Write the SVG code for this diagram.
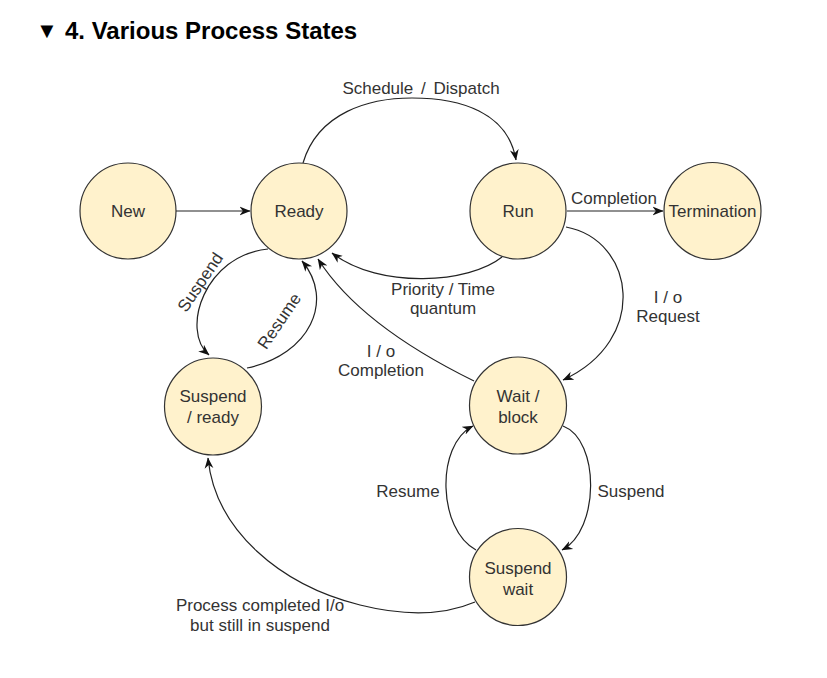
<svg xmlns="http://www.w3.org/2000/svg" width="827" height="678" viewBox="0 0 827 678">
<defs>
<marker id="arr" viewBox="0 0 10 10" refX="9.5" refY="5" markerWidth="11" markerHeight="11" markerUnits="userSpaceOnUse" orient="auto">
<path d="M0,1 L10,5 L0,9 L3,5 z" fill="#111"/>
</marker>
<style>
.node circle{fill:#fff2cc;stroke:#333;stroke-width:1.2}
.nt{font-family:"Liberation Sans",Arial,sans-serif;font-size:17px;fill:#333;text-anchor:middle}
.el{font-family:"Liberation Sans",Arial,sans-serif;font-size:17px;fill:#333;text-anchor:middle}
#edges path{fill:none;stroke:#222;stroke-width:1.2;marker-end:url(#arr)}
.title{font-family:"Liberation Sans",Arial,sans-serif;font-weight:bold;fill:#000}
</style>
</defs>
<rect width="827" height="678" fill="#fff"/>
<text class="title" x="36" y="38" font-size="22">▼</text>
<text class="title" x="65" y="39" font-size="24">4. Various Process States</text>

<g id="edges">
<path id="e-new-ready" d="M176,211 L250,211"/>
<path id="e-ready-run" d="M303,163 C318,112 370,98 412,98 C460,98 508,112 516,160"/>
<path id="e-run-term" d="M567,211 L663,211"/>
<path id="e-run-ready" d="M502,257 C470,283 380,290 332,253"/>
<path id="e-run-wait" d="M566,227 C635,240 650,340 563,380"/>
<path id="e-wait-ready" d="M474,381 Q360,325 318,259"/>
<path id="e-ready-sr" d="M268,249 C205,255 180,330 209,355"/>
<path id="e-sr-ready" d="M247,368 C310,355 335,300 302,261"/>
<path id="e-wait-sw" d="M563,426 C600,440 600,530 562,550"/>
<path id="e-sw-wait" d="M476,550 C438,530 435,445 473,426"/>
<path id="e-sw-sr" d="M475,602 C440,617 400,615 360,605 C280,585 215,530 208,458"/>
</g>

<g id="edge-labels">
<text class="el" x="421" y="94" word-spacing="3">Schedule / Dispatch</text>
<text class="el" x="614" y="204">Completion</text>
<text class="el" x="443" y="295">Priority / Time</text>
<text class="el" x="443" y="314">quantum</text>
<text class="el" x="668" y="303">I / o</text>
<text class="el" x="668" y="322">Request</text>
<text class="el" x="381" y="357">I / o</text>
<text class="el" x="381" y="376">Completion</text>
<text class="el" transform="translate(200,282) rotate(-56)" y="6">Suspend</text>
<text class="el" transform="translate(279,321) rotate(-56)" y="6">Resume</text>
<text class="el" x="408" y="497">Resume</text>
<text class="el" x="631" y="497">Suspend</text>
<text class="el" x="260" y="611">Process completed I/o</text>
<text class="el" x="260" y="631">but still in suspend</text>
</g>

<g id="n-new" class="node"><circle cx="128" cy="211" r="48"/><text class="nt" x="128" y="217">New</text></g>
<g id="n-ready" class="node"><circle cx="299" cy="211" r="48"/><text class="nt" x="299" y="217">Ready</text></g>
<g id="n-run" class="node"><circle cx="518" cy="211" r="48"/><text class="nt" x="518" y="217">Run</text></g>
<g id="n-term" class="node"><circle cx="712.5" cy="211" r="48.5"/><text class="nt" x="712.5" y="217">Termination</text></g>
<g id="n-suspready" class="node"><circle cx="213" cy="406.5" r="48.5"/><text class="nt" x="213" y="402">Suspend</text><text class="nt" x="213" y="423">/ ready</text></g>
<g id="n-wait" class="node"><circle cx="518" cy="405.5" r="48.5"/><text class="nt" x="518" y="402">Wait /</text><text class="nt" x="518" y="423">block</text></g>
<g id="n-suspwait" class="node"><circle cx="518" cy="577" r="48.5"/><text class="nt" x="518" y="573.5">Suspend</text><text class="nt" x="518" y="594.5">wait</text></g>
</svg>
